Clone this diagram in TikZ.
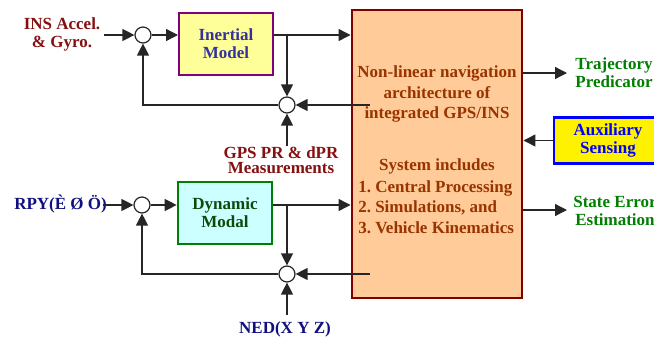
\documentclass[tikz,border=0pt]{standalone}
\usepackage{fontspec}
\setmainfont{Liberation Serif}
\usetikzlibrary{arrows.meta,calc}
\frenchspacing
\definecolor{inred}{HTML}{851010}
\definecolor{inertc}{HTML}{333399}
\definecolor{inertfill}{HTML}{FFFF99}
\definecolor{inertdraw}{HTML}{800080}
\definecolor{navyc}{HTML}{101080}
\definecolor{dynfill}{HTML}{CCFFFF}
\definecolor{dyndraw}{HTML}{008000}
\definecolor{dyntext}{HTML}{0B4B0B}
\definecolor{bigfill}{HTML}{FFCC99}
\definecolor{bigdraw}{HTML}{800000}
\definecolor{bigtext}{HTML}{993300}
\definecolor{outgreen}{HTML}{008000}
\definecolor{auxblue}{HTML}{0000FF}
\begin{document}
\begin{tikzpicture}[x=0.75pt,y=-0.75pt,
  every node/.style={font=\bfseries\fontsize{12.75}{13.5}\selectfont, align=center, inner sep=0pt},
  line/.style={line width=1pt, draw=black!85},
  arr/.style={line, -{Triangle[length=9pt,width=9pt]}},
  sumc/.style={circle, draw=black!85, line width=0.9pt, minimum size=12pt, inner sep=0pt, fill=white},
  smallbox/.style={minimum width=70.5pt, minimum height=46.5pt},
  bigtxt/.style={text=bigtext, font=\bfseries\fontsize{12.75}{15.4}\selectfont},
  outtxt/.style={text=outgreen},
]
\useasboundingbox (0,0) rectangle (654,343);

% big box
\node[draw=bigdraw, fill=bigfill, line width=2.2pt, minimum width=127.5pt, minimum height=216pt] (big) at (437,154) {};
\node[bigtxt] (t1) at (437,94) {Non-linear navigation\\architecture of\\integrated GPS/INS};
\node[bigtxt] (t2) at (437,166) {System includes};
\node[bigtxt, align=left, anchor=west] (t3) at (358,207) {1. Central Processing\\2. Simulations, and\\3. Vehicle Kinematics};

% top loop
\node[text=inred] (ins) at (62,34) {INS Accel.\\\& Gyro.};
\node[sumc] (c1) at (143,35) {};
\node[draw=inertdraw, fill=inertfill, line width=1.5pt, smallbox, text=inertc] (inert) at (226,44) {Inertial\\Model};
\node[sumc] (c2) at (287,105) {};
\node[text=inred, font=\bfseries\fontsize{12.75}{11.3}\selectfont] (gps) at (281,160) {GPS PR \& dPR\\Measurements};
\coordinate (insin) at (104,35);
\coordinate (b1) at (287,35);
\coordinate (fb1) at (370,105);
\coordinate (k1) at (143,105);
\coordinate (gpstop) at (287,146);

\draw[arr] (insin) -- (c1.west);
\draw[arr] (c1.east) -- (c1.east -| inert.west);
\draw[arr] (c1 -| inert.east) -- (c1 -| big.west);
\draw[arr] (b1) -- (c2.north);
\draw[arr] (fb1) -- (c2.east);
\draw[arr] (gpstop) -- (c2.south);
\draw[arr] (c2.west) -- (k1) -- (c1.south);

% bottom loop
\node[text=navyc, anchor=west] (rpy) at (14,204) {RPY(È Ø Ö)};
\node[sumc] (c3) at (142,205) {};
\node[draw=dyndraw, fill=dynfill, line width=2pt, smallbox, text=dyntext] (dyn) at (225,213) {Dynamic\\Modal};
\node[sumc] (c4) at (287,274) {};
\node[text=navyc] (ned) at (285,329) {NED(X Y Z)};
\coordinate (rpyin) at (103,205);
\coordinate (b2) at (287,205);
\coordinate (fb2) at (370,274);
\coordinate (k2) at (142,274);
\coordinate (nedtop) at (287,315);

\draw[arr] (rpyin) -- (c3.west);
\draw[arr] (c3.east) -- (c3.east -| dyn.west);
\draw[arr] (c3 -| dyn.east) -- (c3 -| big.west);
\draw[arr] (b2) -- (c4.north);
\draw[arr] (fb2) -- (c4.east);
\draw[arr] (nedtop) -- (c4.south);
\draw[arr] (c4.west) -- (k2) -- (c3.south);

% right side
\node[outtxt] (traj) at (614,73) {Trajectory\\Predicator};
\node[draw=auxblue, fill=yellow, line width=2.2pt, minimum width=81pt, minimum height=35pt] (aux) at (608,140.5) {};
\node[text=auxblue] (auxt) at (608,140) {Auxiliary\\Sensing};
\node[outtxt] (state) at (615,211) {State Error\\Estimation};
\coordinate (o1) at (567,73);
\coordinate (o2) at (567,210);

\draw[arr] (o1 -| big.east) -- (o1);
\draw[arr] (aux.west) -- (aux.west -| big.east);
\draw[arr] (o2 -| big.east) -- (o2);
\end{tikzpicture}
\end{document}
